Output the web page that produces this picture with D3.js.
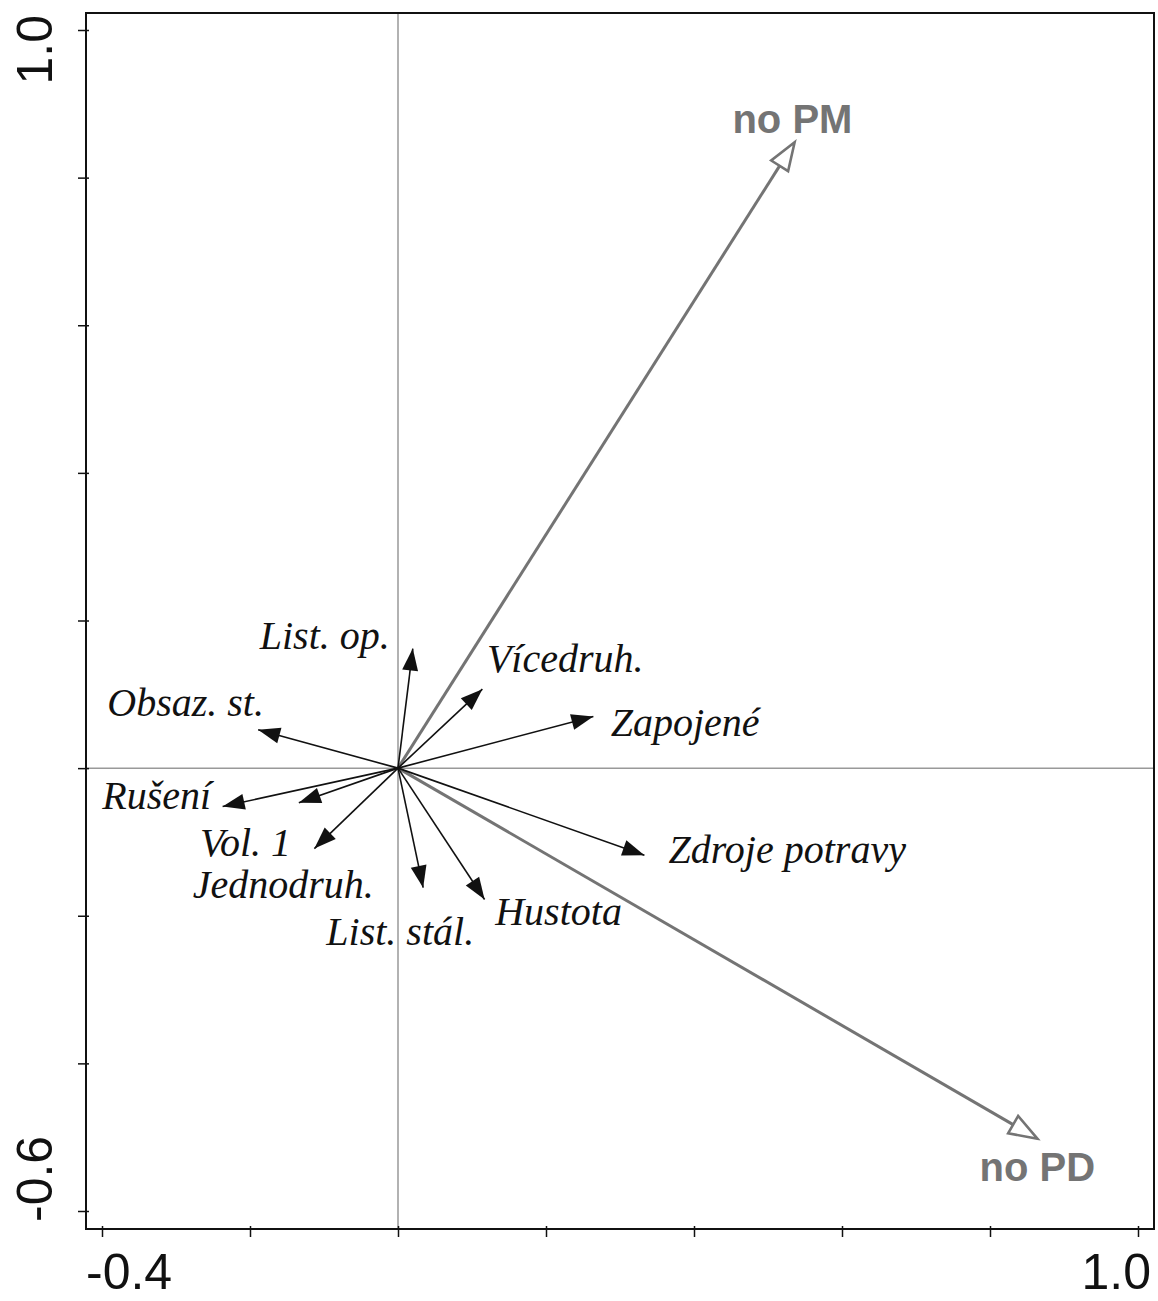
<!DOCTYPE html>
<html>
<head>
<meta charset="utf-8">
<script src="https://cdn.jsdelivr.net/npm/d3@7"></script>
<style>
  body { margin: 0; background: #fff; }
  .env { font-family: "Liberation Serif", "Times New Roman", serif; font-style: italic; font-size: 40px; fill: #111; }
  .spec { font-family: "Liberation Sans", Arial, sans-serif; font-weight: bold; font-size: 40px; fill: #747474; }
  .tick { font-family: "Liberation Sans", Arial, sans-serif; font-size: 50px; fill: #111; }
</style>
</head>
<body>
<svg id="chart" width="1158" height="1301"></svg>
<script>
// environmental variables (black arrows)
const envNames = ["List. op.", "Vícedruh.", "Zapojené", "Obsaz. st.", "Rušení", "Vol. 1",
                  "Jednodruh.", "List. stál.", "Hustota", "Zdroje potravy"];
const envX = [0.020, 0.114, 0.264, -0.189, -0.237, -0.134, -0.113, 0.034, 0.117, 0.333];
const envY = [0.162, 0.107, 0.070, 0.052, -0.052, -0.047, -0.109, -0.162, -0.178, -0.118];
// label anchors (centre x, baseline y) in axis units
const envLabX = [-0.099, 0.226, 0.388, -0.287, -0.326, -0.206, -0.155, 0.003, 0.217, 0.526];
const envLabY = [0.161, 0.130, 0.043, 0.070, -0.056, -0.119, -0.176, -0.240, -0.213, -0.128];

// species (grey hollow arrows)
const specNames = ["no PM", "no PD"];
const specX = [0.536, 0.864];
const specY = [0.848, -0.502];
const specLabX = [0.533, 0.864];
const specLabY = [0.861, -0.560];

const xTicks = [-0.4, -0.2, 0, 0.2, 0.4, 0.6, 0.8, 1.0];
const yTicks = [-0.6, -0.4, -0.2, 0, 0.2, 0.4, 0.6, 0.8, 1.0];

const svg = d3.select("#chart");
const frame = { left: 86, right: 1154, top: 13, bottom: 1229 };

const x = d3.scaleLinear().domain([-0.4, 1.0]).range([102, 1138]);
const y = d3.scaleLinear().domain([-0.6, 1.0]).range([1211, 30]);

// zero lines
svg.append("line")
  .attr("x1", frame.left).attr("x2", frame.right)
  .attr("y1", y(0)).attr("y2", y(0))
  .attr("stroke", "#999").attr("stroke-width", 1.5);
svg.append("line")
  .attr("x1", x(0)).attr("x2", x(0))
  .attr("y1", frame.top).attr("y2", frame.bottom)
  .attr("stroke", "#999").attr("stroke-width", 1.5);

// axes
const xAxis = d3.axisBottom(x).tickValues(xTicks).tickSize(8).tickFormat("");
const yAxis = d3.axisLeft(y).tickValues(yTicks).tickSize(8).tickFormat("");

const gx = svg.append("g").attr("transform", "translate(0," + frame.bottom + ")").call(xAxis);
const gy = svg.append("g").attr("transform", "translate(" + frame.left + ",0)").call(yAxis);
[gx, gy].forEach(g => {
  g.select(".domain").remove();
  g.selectAll(".tick line").attr("stroke", "#111").attr("stroke-width", 1.5);
});
gx.selectAll(".tick line").attr("y1", -3);
gy.selectAll(".tick line").attr("x1", 3);

svg.append("rect")
  .attr("x", frame.left).attr("y", frame.top)
  .attr("width", frame.right - frame.left).attr("height", frame.bottom - frame.top)
  .attr("fill", "none").attr("stroke", "#111").attr("stroke-width", 2);

// tick labels (only the ends, like CANOCO)
svg.append("text").attr("class", "tick")
  .attr("x", frame.left).attr("y", 1289).attr("text-anchor", "start")
  .text(d3.format(".1f")(xTicks[0]).replace("−", "-"));
svg.append("text").attr("class", "tick")
  .attr("x", frame.right - 3).attr("y", 1289).attr("text-anchor", "end")
  .text(d3.format(".1f")(xTicks[xTicks.length - 1]));
svg.append("text").attr("class", "tick")
  .attr("transform", "translate(52," + (frame.top + 2) + ") rotate(-90)")
  .attr("text-anchor", "end")
  .text(d3.format(".1f")(yTicks[yTicks.length - 1]));
svg.append("text").attr("class", "tick")
  .attr("transform", "translate(52," + (frame.bottom - 7) + ") rotate(-90)")
  .attr("text-anchor", "start")
  .text(d3.format(".1f")(yTicks[0]).replace("−", "-"));

// arrow helper: triangle with its point at the tip
function head(x1, y1, x2, y2, len, half) {
  const a = Math.atan2(y2 - y1, x2 - x1);
  const bx = x2 - len * Math.cos(a), by = y2 - len * Math.sin(a);
  const px = -Math.sin(a) * half, py = Math.cos(a) * half;
  return "M" + x2 + "," + y2 + "L" + (bx + px) + "," + (by + py) + "L" + (bx - px) + "," + (by - py) + "Z";
}

const env = envNames.map((n, i) => ({ n, x: envX[i], y: envY[i], lx: envLabX[i], ly: envLabY[i] }));
const spec = specNames.map((n, i) => ({ n, x: specX[i], y: specY[i], lx: specLabX[i], ly: specLabY[i] }));

// species arrows
const gs = svg.append("g");
gs.selectAll("line").data(spec).enter().append("line")
  .attr("x1", x(0)).attr("y1", y(0))
  .attr("x2", d => {
    const a = Math.atan2(y(d.y) - y(0), x(d.x) - x(0));
    return x(d.x) - 26 * Math.cos(a);
  })
  .attr("y2", d => {
    const a = Math.atan2(y(d.y) - y(0), x(d.x) - x(0));
    return y(d.y) - 26 * Math.sin(a);
  })
  .attr("stroke", "#747474").attr("stroke-width", 3);
gs.selectAll("path").data(spec).enter().append("path")
  .attr("d", d => head(x(0), y(0), x(d.x), y(d.y), 28, 10))
  .attr("fill", "#fff").attr("stroke", "#747474").attr("stroke-width", 2.6)
  .attr("stroke-linejoin", "miter");
gs.selectAll("text").data(spec).enter().append("text")
  .attr("class", "spec").attr("text-anchor", "middle")
  .attr("x", d => x(d.lx)).attr("y", d => y(d.ly))
  .text(d => d.n);

// environmental arrows
const ge = svg.append("g");
ge.selectAll("line").data(env).enter().append("line")
  .attr("x1", x(0)).attr("y1", y(0))
  .attr("x2", d => x(d.x)).attr("y2", d => y(d.y))
  .attr("stroke", "#111").attr("stroke-width", 1.6);
ge.selectAll("path").data(env).enter().append("path")
  .attr("d", d => head(x(0), y(0), x(d.x), y(d.y), 22, 8))
  .attr("fill", "#111");
ge.selectAll("text").data(env).enter().append("text")
  .attr("class", "env").attr("text-anchor", "middle")
  .attr("x", d => x(d.lx)).attr("y", d => y(d.ly))
  .text(d => d.n);
</script>
</body>
</html>
